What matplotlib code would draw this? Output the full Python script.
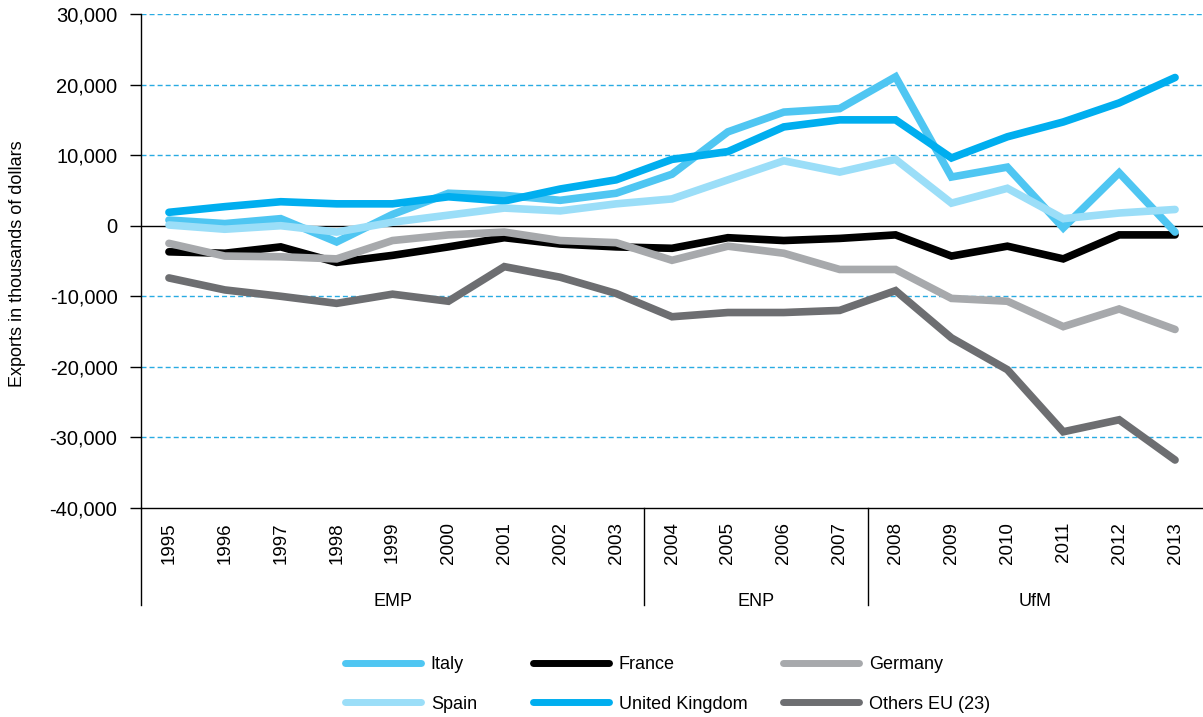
import matplotlib
matplotlib.use("Agg")
import matplotlib.pyplot as plt
import numpy as np

plt.rcParams['font.family'] = ['Liberation Sans', 'DejaVu Sans']

years = [str(y) for y in range(1995, 2014)]

# exports in thousands of dollars
italy = [800, 300, 1000, -2300, 1600, 4600, 4300, 3600, 4600, 7300,
         13300, 16100, 16600, 21100, 6900, 8300, -300, 7500, -900]
spain = [100, -500, 0, -900, 500, 1500, 2500, 2100, 3100, 3800,
         6500, 9200, 7600, 9400, 3200, 5300, 1000, 1800, 2300]
france = [-3700, -3900, -3000, -5200, -4200, -3000, -1700, -2600, -3000, -3200,
          -1700, -2100, -1800, -1300, -4300, -2900, -4700, -1300, -1300]
uk = [1900, 2700, 3400, 3100, 3100, 4100, 3500, 5200, 6500, 9400,
      10500, 14000, 15000, 15000, 9600, 12600, 14700, 17400, 21000]
germany = [-2500, -4300, -4400, -4700, -2100, -1300, -900, -2100, -2400, -4900,
           -2900, -3900, -6200, -6200, -10300, -10700, -14300, -11800, -14700]
others = [-7400, -9100, -10000, -11000, -9700, -10700, -5800, -7300, -9600, -12900,
          -12300, -12300, -12000, -9200, -15900, -20400, -29200, -27500, -33200]

periods = ['EMP', 'ENP', 'UfM']
period_first = [0, 9, 13]
period_last = [8, 12, 18]

yticks = [30000, 20000, 10000, 0, -10000, -20000, -30000, -40000]

c_italy = '#4fc6f2'
c_spain = '#9bdef8'
c_france = '#000000'
c_uk = '#00aeef'
c_germany = '#a7a9ac'
c_others = '#6d6e71'

fig = plt.figure(figsize=(12.03, 7.17), dpi=100)
ax = fig.add_axes([141 / 1203, 209 / 717, 1062 / 1203, 494 / 717])

x = np.arange(len(years))
lw = 5.5
series = [(france, c_france, 'France'), (germany, c_germany, 'Germany'),
          (others, c_others, 'Others EU (23)'), (italy, c_italy, 'Italy'),
          (uk, c_uk, 'United Kingdom'), (spain, c_spain, 'Spain')]
handles = {}
for vals, col, name in series:
    h, = ax.plot(x, vals, color=col, lw=lw, solid_capstyle='round',
                 solid_joinstyle='miter', zorder=3)
    handles[name] = h

# gridlines and zero line
for t in yticks:
    if t == 0:
        ax.axhline(0, color='black', lw=1.0, zorder=2)
    elif t != -40000:
        ax.axhline(t, color='#29abe2', lw=1.0, dashes=(3.6, 2.2), zorder=1)

ax.set_xlim(-0.5, len(years) - 0.5)
ax.set_ylim(-40000, 30000)
ax.set_yticks(yticks)
ax.set_yticklabels(['{:,}'.format(t) for t in yticks])
ax.set_xticks(x)
ax.set_xticklabels(years, rotation=90)
ax.tick_params(axis='y', length=8, width=1, pad=9, labelsize=14.5)
ax.tick_params(axis='x', length=0, pad=10, labelsize=13.5)

for s in ['top', 'right']:
    ax.spines[s].set_visible(False)
for s in ['left', 'bottom']:
    ax.spines[s].set_linewidth(1.0)

fig.text(18 / 1203, 1 - 264 / 717, 'Exports in thousands of dollars',
         rotation=90, ha='center', va='center', fontsize=13)

# period separators and labels below the axis
ybot = -(605 - 508) / 494
trans = ax.get_xaxis_transform()
for first, last, name in zip(period_first, period_last, periods):
    ax.plot([first - 0.5, first - 0.5], [0, ybot], color='black', lw=1.0,
            transform=trans, clip_on=False)
    ax.text((first + last) / 2, -(602 - 508) / 494, name, transform=trans,
            ha='center', va='center', fontsize=13)

# legend in three columns
cols = [(['Italy', 'Spain'], 345), (['France', 'United Kingdom'], 533),
        (['Germany', 'Others EU (23)'], 783)]
for names, px in cols:
    hs = [plt.Line2D([], [], color=handles[n].get_color(), lw=5,
                     solid_capstyle='round') for n in names]
    leg = fig.legend(hs, names, loc='upper left',
                     bbox_to_anchor=(px / 1203, 1 - 656 / 717),
                     frameon=False, fontsize=13, handlelength=4.2,
                     handletextpad=0.55, labelspacing=1.25,
                     borderpad=0, borderaxespad=0)

fig.savefig('out.png', dpi=100)
